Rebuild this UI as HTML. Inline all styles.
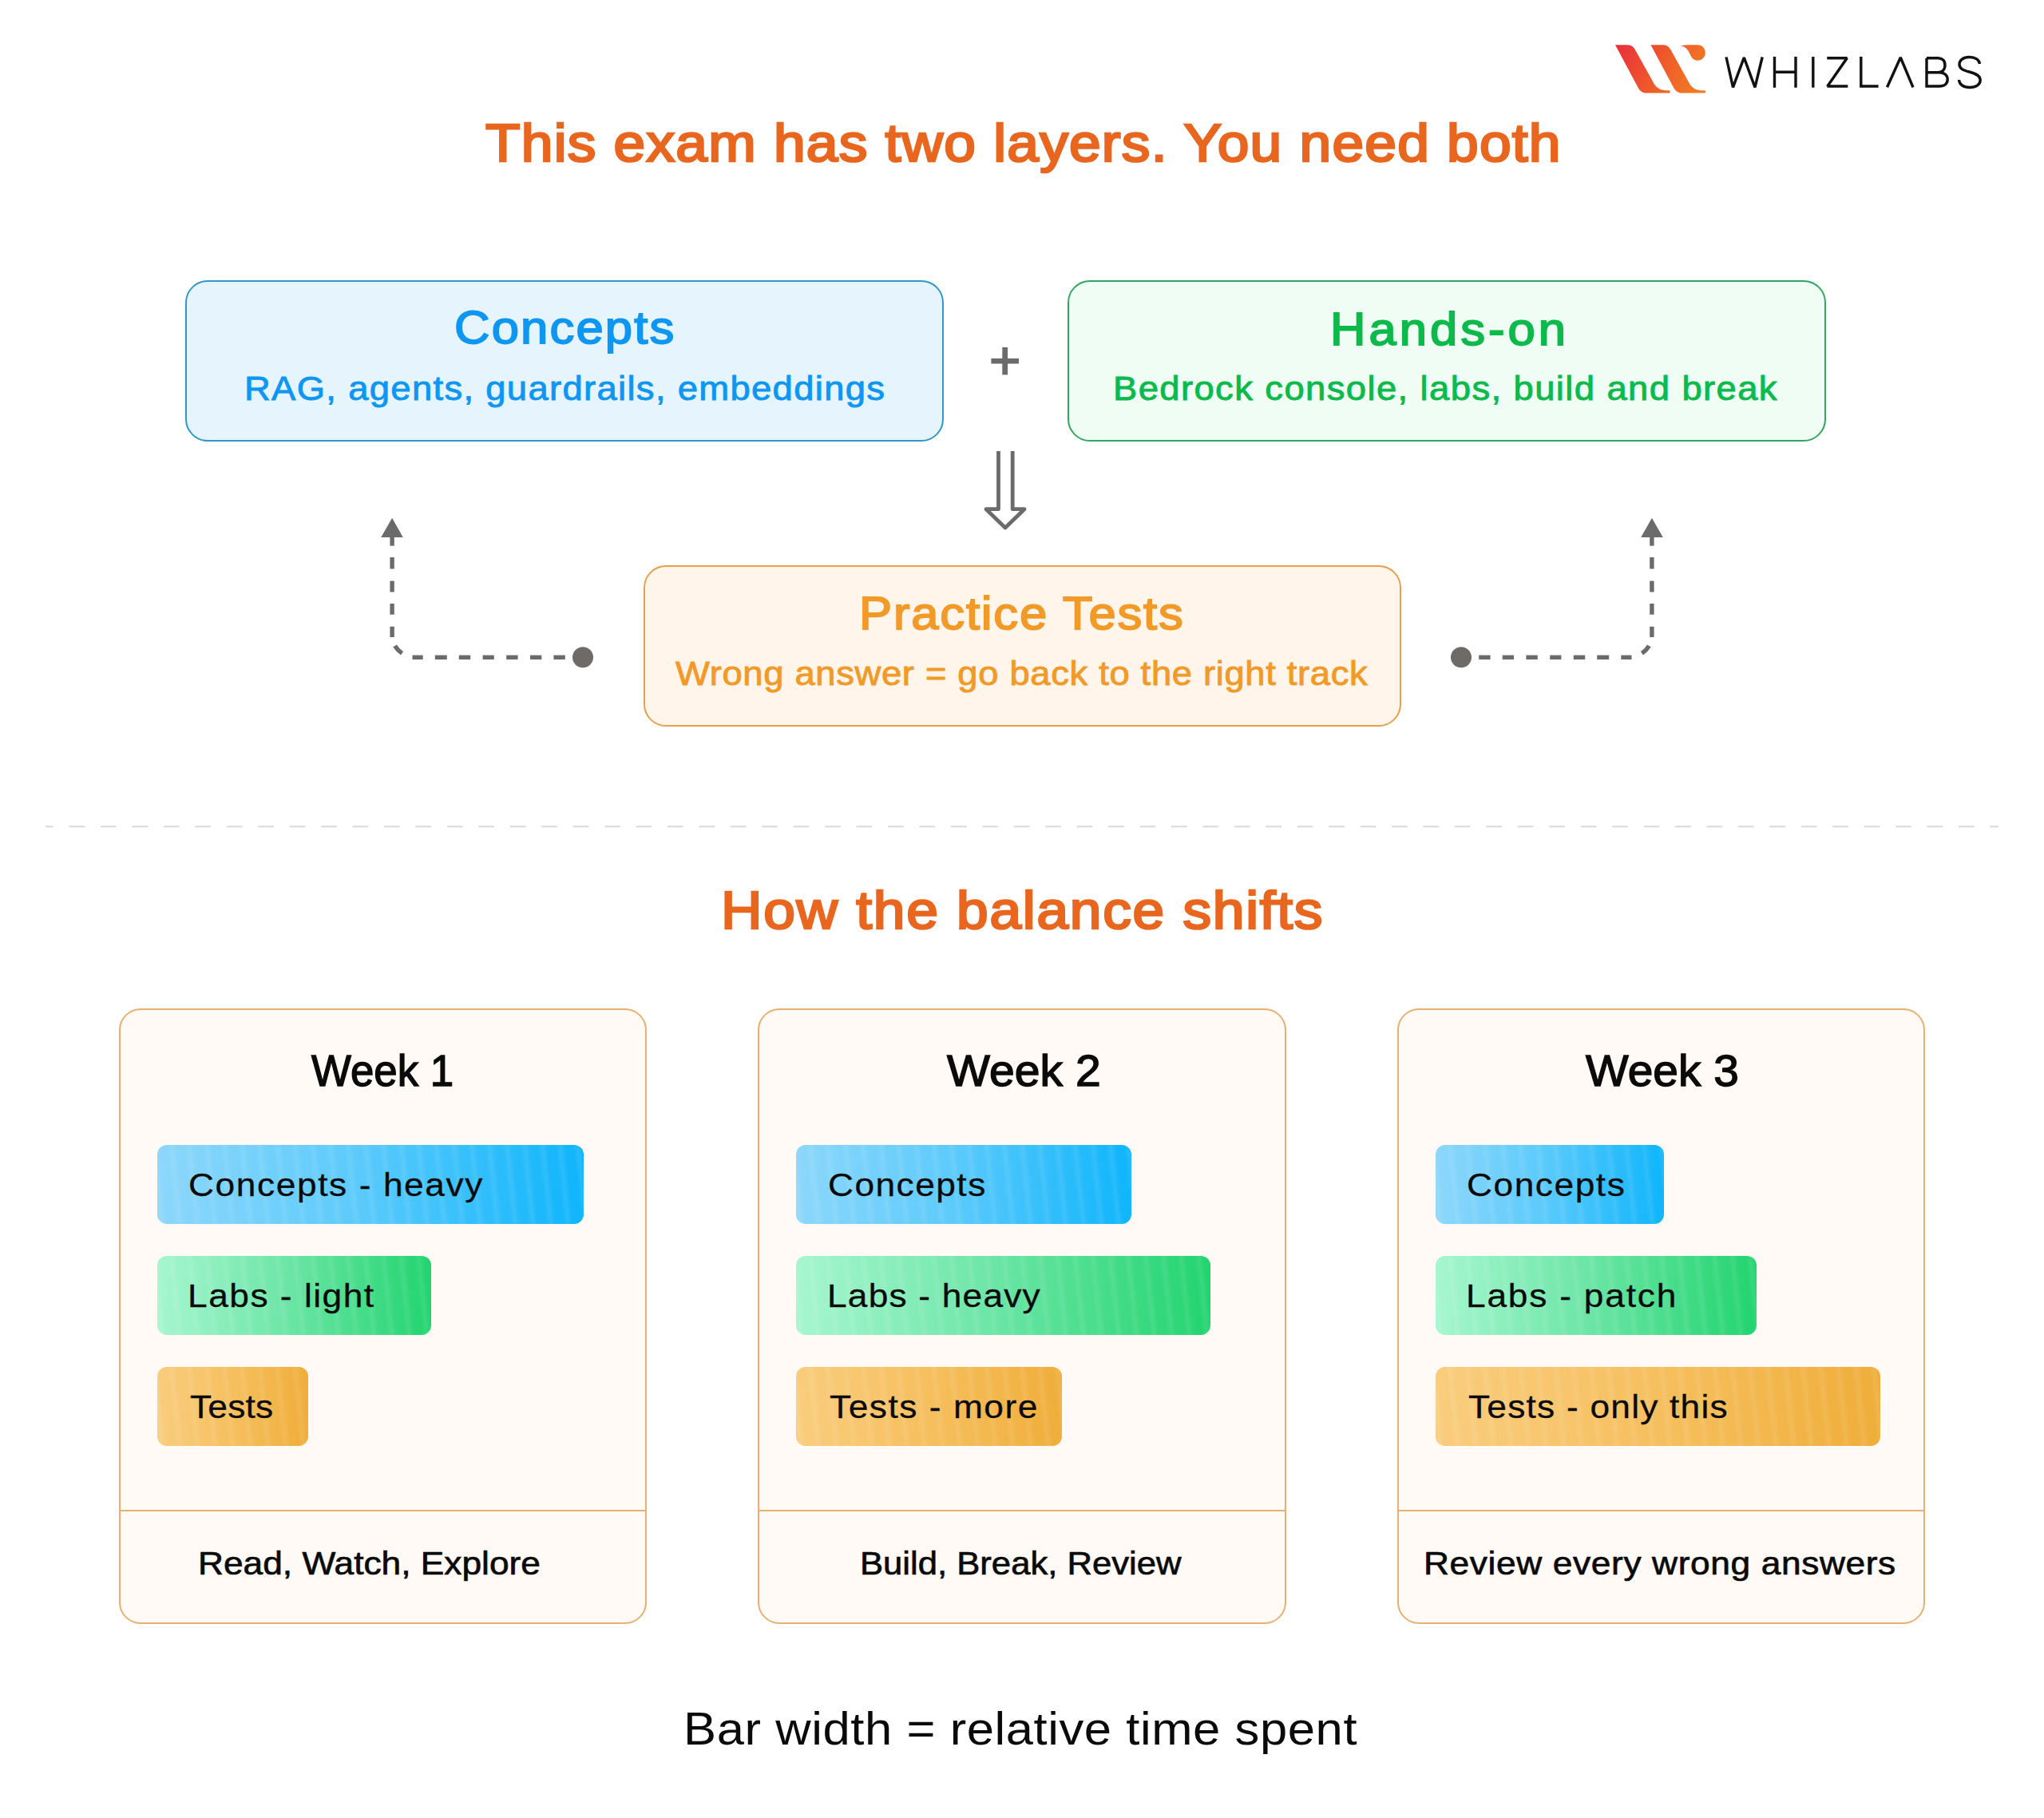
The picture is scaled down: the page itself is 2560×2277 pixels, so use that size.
<!DOCTYPE html>
<html><head><meta charset="utf-8"><title>Two layers</title>
<style>
html,body{margin:0;padding:0;background:#ffffff;}
body{width:2560px;height:2277px;position:relative;overflow:hidden;font-family:"Liberation Sans",sans-serif;}
.box{position:absolute;box-sizing:border-box;}
.bar{position:absolute;border-radius:12px;}
.t{position:absolute;white-space:nowrap;line-height:1;transform-origin:0 0;}
.ov{position:absolute;left:0;top:0;}
</style></head><body>
<div class="box" style="left:231.8px;top:351px;width:950.5px;height:202px;background:#e6f4fd;border:2px solid #3196cc;border-radius:28px;"></div>
<div class="box" style="left:1337px;top:351px;width:950px;height:202px;background:#effdf4;border:2px solid #2fa85e;border-radius:28px;"></div>
<div class="box" style="left:805.5px;top:708px;width:949px;height:202px;background:#fff5eb;border:2px solid #e6a04c;border-radius:28px;"></div>
<div class="box" style="left:148.5px;top:1263.2px;width:661.5px;height:770.4px;background:#fffaf5;border:2px solid #e8b070;border-radius:27px;"></div>
<div class="box" style="left:149.5px;top:1891px;width:659.5px;height:2px;background:#e8b070;"></div>
<div class="box" style="left:949.2px;top:1263.2px;width:661.5px;height:770.4px;background:#fffaf5;border:2px solid #e8b070;border-radius:27px;"></div>
<div class="box" style="left:950.2px;top:1891px;width:659.5px;height:2px;background:#e8b070;"></div>
<div class="box" style="left:1749.5px;top:1263.2px;width:661.5px;height:770.4px;background:#fffaf5;border:2px solid #e8b070;border-radius:27px;"></div>
<div class="box" style="left:1750.5px;top:1891px;width:659.5px;height:2px;background:#e8b070;"></div>
<div class="bar" style="left:196.5px;top:1434px;width:534px;height:99px;background:repeating-linear-gradient(84deg,rgba(255,255,255,0) 0px,rgba(255,255,255,0.09) 6px,rgba(255,255,255,0) 12px,rgba(255,255,255,0) 22px),linear-gradient(90deg,#8dd7fb 0%,#5ecbfb 45%,#0fb5fb 100%);"></div>
<div class="bar" style="left:196.5px;top:1573px;width:343.5px;height:99px;background:repeating-linear-gradient(84deg,rgba(255,255,255,0) 0px,rgba(255,255,255,0.09) 6px,rgba(255,255,255,0) 12px,rgba(255,255,255,0) 22px),linear-gradient(90deg,#a6f6d0 0%,#6fe6a8 45%,#22d46f 100%);"></div>
<div class="bar" style="left:196.5px;top:1712px;width:189.5px;height:99px;background:repeating-linear-gradient(84deg,rgba(255,255,255,0) 0px,rgba(255,255,255,0.09) 6px,rgba(255,255,255,0) 12px,rgba(255,255,255,0) 22px),linear-gradient(90deg,#f9cd7e 0%,#f6bf5e 50%,#efae3a 100%);"></div>
<div class="bar" style="left:997.2px;top:1434px;width:420px;height:99px;background:repeating-linear-gradient(84deg,rgba(255,255,255,0) 0px,rgba(255,255,255,0.09) 6px,rgba(255,255,255,0) 12px,rgba(255,255,255,0) 22px),linear-gradient(90deg,#8dd7fb 0%,#5ecbfb 45%,#0fb5fb 100%);"></div>
<div class="bar" style="left:997.2px;top:1573px;width:518.6px;height:99px;background:repeating-linear-gradient(84deg,rgba(255,255,255,0) 0px,rgba(255,255,255,0.09) 6px,rgba(255,255,255,0) 12px,rgba(255,255,255,0) 22px),linear-gradient(90deg,#a6f6d0 0%,#6fe6a8 45%,#22d46f 100%);"></div>
<div class="bar" style="left:997.2px;top:1712px;width:333px;height:99px;background:repeating-linear-gradient(84deg,rgba(255,255,255,0) 0px,rgba(255,255,255,0.09) 6px,rgba(255,255,255,0) 12px,rgba(255,255,255,0) 22px),linear-gradient(90deg,#f9cd7e 0%,#f6bf5e 50%,#efae3a 100%);"></div>
<div class="bar" style="left:1797.5px;top:1434px;width:286px;height:99px;background:repeating-linear-gradient(84deg,rgba(255,255,255,0) 0px,rgba(255,255,255,0.09) 6px,rgba(255,255,255,0) 12px,rgba(255,255,255,0) 22px),linear-gradient(90deg,#8dd7fb 0%,#5ecbfb 45%,#0fb5fb 100%);"></div>
<div class="bar" style="left:1797.5px;top:1573px;width:402px;height:99px;background:repeating-linear-gradient(84deg,rgba(255,255,255,0) 0px,rgba(255,255,255,0.09) 6px,rgba(255,255,255,0) 12px,rgba(255,255,255,0) 22px),linear-gradient(90deg,#a6f6d0 0%,#6fe6a8 45%,#22d46f 100%);"></div>
<div class="bar" style="left:1797.5px;top:1712px;width:557px;height:99px;background:repeating-linear-gradient(84deg,rgba(255,255,255,0) 0px,rgba(255,255,255,0.09) 6px,rgba(255,255,255,0) 12px,rgba(255,255,255,0) 22px),linear-gradient(90deg,#f9cd7e 0%,#f6bf5e 50%,#efae3a 100%);"></div>
<svg class="ov" width="2560" height="2277" viewBox="0 0 2560 2277">
<defs>
<linearGradient id="lg" x1="2022" y1="56" x2="2136" y2="116" gradientUnits="userSpaceOnUse">
<stop offset="0" stop-color="#e82e3c"/><stop offset="0.5" stop-color="#ef5a2a"/><stop offset="1" stop-color="#f28222"/>
</linearGradient>
</defs>
<g fill="url(#lg)">
<path d="M2023,56.3 L2038.5,56.3 C2043.5,56.3 2046.8,59.5 2048.6,63.6 L2069.5,101 C2072.5,107 2076,111.5 2082.5,112.8 C2085.5,113.4 2088.5,113.3 2090.3,113.3 C2092.3,113.4 2092.3,116.6 2090,116.6 L2062,116.6 C2057,116.6 2053.5,113.5 2051.5,109.5 Z"/>
<path d="M2067.5,56.3 L2083,56.3 C2088,56.3 2091.3,59.5 2093.1,63.6 L2114,101 C2117,107 2120.5,111.5 2127,112.8 C2130,113.4 2133,113.3 2134.8,113.3 C2136.8,113.4 2136.8,116.6 2134.5,116.6 L2106.5,116.6 C2101.5,116.6 2098,113.5 2096,109.5 Z"/>
<path d="M2105.5,57.3 C2109,56.6 2112,56.3 2116,56.3 L2126.5,56.3 C2131.5,56.3 2135.8,60.5 2135.8,66 C2135.8,71.5 2131.5,75.8 2126.2,75.8 C2122,75.8 2119.2,73.3 2117.4,69.5 C2115,64 2112,58.5 2105.5,57.3 Z"/>
</g>
<g fill="none" stroke="#111" stroke-width="3.4" stroke-linecap="butt" stroke-linejoin="miter" stroke-miterlimit="2">
<path d="M2162,71.5 L2170.5,109.3 L2184.3,72.2 L2198,109.3 L2207.2,71.5"/>
<path d="M2222.5,71.1 V109.7 M2249,71.1 V109.7 M2222.5,90.2 H2249"/>
<path d="M2270.8,71.1 V109.7"/>
<path d="M2288.3,72.8 H2313.3 L2288.8,108 H2314.3"/>
<path d="M2330.8,71.1 V108 H2352.6"/>
<path d="M2363.5,109.3 L2380.3,72 L2396,109.3"/>
<path d="M2413,72.8 V108 H2429 C2435.3,108 2439.2,104.5 2439.2,99.5 C2439.2,94.5 2435.3,90.8 2429,90.8 H2413 M2413,72.8 H2427 C2432.5,72.8 2436,76 2436,81.5 C2436,87 2432.5,90.8 2427,90.8"/>
<path d="M2479.5,80 C2479,75 2474,71.5 2466.5,71.5 C2459,71.5 2454,75.3 2454,80.5 C2454,86 2459,88 2466.5,90 C2474,92 2480.2,94.5 2480.2,100.5 C2480.2,106 2474.5,109.5 2467,109.5 C2459.5,109.5 2453.8,106 2453.5,100"/>
</g>
<g fill="#6b6b6b">
<rect x="1241.4" y="448.9" width="34.6" height="6.6"/>
<rect x="1255.3" y="435" width="6.8" height="34.4"/>
</g>
<path d="M1250.5,565 V637.7 H1235 L1259,661 L1283,637.7 H1268.2 V565" fill="none" stroke="#6b6b6b" stroke-width="4.8" stroke-linejoin="round"/>
<g stroke="#6b6b6b" stroke-width="5.4" fill="none">
<line x1="516.5" y1="823.3" x2="529.7" y2="823.3"/>
<line x1="544.8" y1="823.3" x2="559.8" y2="823.3"/>
<line x1="574.8" y1="823.3" x2="589.2" y2="823.3"/>
<line x1="604.6" y1="823.3" x2="618.8" y2="823.3"/>
<line x1="634.2" y1="823.3" x2="648.6" y2="823.3"/>
<line x1="664" y1="823.3" x2="678.3" y2="823.3"/>
<line x1="693.4" y1="823.3" x2="707.8" y2="823.3"/>
<line x1="491.1" y1="784.8" x2="491.1" y2="798"/>
<line x1="491.1" y1="756" x2="491.1" y2="769.7"/>
<line x1="491.1" y1="727.6" x2="491.1" y2="741.5"/>
<line x1="491.1" y1="698" x2="491.1" y2="712.5"/>
<line x1="491.1" y1="670" x2="491.1" y2="683.6"/>
<path d="M503.6,818.2 A28,28 0 0 1 494.6,808.8" fill="none"/>
<polygon points="491.1,648.8 477.2,672.9 504.8,672.9" fill="#6b6b6b" stroke="none"/>
<circle cx="730" cy="823.3" r="13" fill="#6e6a66" stroke="none"/>
<line x1="2043.5" y1="823.3" x2="2030.3" y2="823.3"/>
<line x1="2015.2" y1="823.3" x2="2000.2" y2="823.3"/>
<line x1="1985.2" y1="823.3" x2="1970.8" y2="823.3"/>
<line x1="1955.4" y1="823.3" x2="1941.2" y2="823.3"/>
<line x1="1925.8" y1="823.3" x2="1911.4" y2="823.3"/>
<line x1="1896" y1="823.3" x2="1881.7" y2="823.3"/>
<line x1="1866.6" y1="823.3" x2="1852.2" y2="823.3"/>
<line x1="2068.9" y1="784.8" x2="2068.9" y2="798"/>
<line x1="2068.9" y1="756" x2="2068.9" y2="769.7"/>
<line x1="2068.9" y1="727.6" x2="2068.9" y2="741.5"/>
<line x1="2068.9" y1="698" x2="2068.9" y2="712.5"/>
<line x1="2068.9" y1="670" x2="2068.9" y2="683.6"/>
<path d="M2056.4,818.2 A28,28 0 0 0 2065.4,808.8" fill="none"/>
<polygon points="2068.9,648.8 2082.8,672.9 2055.2,672.9" fill="#6b6b6b" stroke="none"/>
<circle cx="1830" cy="823.3" r="13" fill="#6e6a66" stroke="none"/>
</g>
<line x1="57" y1="1035.2" x2="2503" y2="1035.2" stroke="#d9d9d9" stroke-width="2" stroke-dasharray="19.72 19.72" stroke-dashoffset="9.86"/>
</svg>
<div class="t" style="left:607.8px;top:146.0px;font-size:66px;font-weight:normal;color:#e9661f;letter-spacing:1.14px;transform:scaleX(1.0800);-webkit-text-stroke:2.6px #e9661f;">This exam has two layers. You need both</div>
<div class="t" style="left:568.7px;top:382.3px;font-size:57px;font-weight:normal;color:#0d97f3;letter-spacing:2.01px;transform:scaleX(1.0800);-webkit-text-stroke:1.8px #0d97f3;">Concepts</div>
<div class="t" style="left:305.5px;top:466.0px;font-size:42px;font-weight:normal;color:#0d97f3;letter-spacing:1.24px;transform:scaleX(1.0800);-webkit-text-stroke:0.9px #0d97f3;">RAG, agents, guardrails, embeddings</div>
<div class="t" style="left:1665.6px;top:383.9px;font-size:57px;font-weight:normal;color:#0bba4a;letter-spacing:3.70px;transform:scaleX(1.0800);-webkit-text-stroke:1.8px #0bba4a;">Hands-on</div>
<div class="t" style="left:1393.9px;top:466.4px;font-size:42px;font-weight:normal;color:#0bba4a;letter-spacing:1.31px;transform:scaleX(1.0800);-webkit-text-stroke:0.9px #0bba4a;">Bedrock console, labs, build and break</div>
<div class="t" style="left:1076.0px;top:739.9px;font-size:57px;font-weight:normal;color:#f29a28;letter-spacing:1.69px;transform:scaleX(1.0800);-webkit-text-stroke:1.8px #f29a28;">Practice Tests</div>
<div class="t" style="left:845.7px;top:823.3px;font-size:42px;font-weight:normal;color:#f29a28;letter-spacing:0.62px;transform:scaleX(1.0800);-webkit-text-stroke:0.9px #f29a28;">Wrong answer = go back to the right track</div>
<div class="t" style="left:902.5px;top:1107.3px;font-size:66px;font-weight:normal;color:#e9661f;letter-spacing:1.60px;transform:scaleX(1.0800);-webkit-text-stroke:2.6px #e9661f;">How the balance shifts</div>
<div class="t" style="left:389.5px;top:1314.3px;font-size:55px;font-weight:normal;color:#0a0a0a;letter-spacing:0.00px;transform:scaleX(0.9608);-webkit-text-stroke:1.4px #0a0a0a;">Week 1</div>
<div class="t" style="left:1185.7px;top:1314.3px;font-size:55px;font-weight:normal;color:#0a0a0a;letter-spacing:-0.00px;transform:scaleX(1.0395);-webkit-text-stroke:1.4px #0a0a0a;">Week 2</div>
<div class="t" style="left:1985.7px;top:1314.3px;font-size:55px;font-weight:normal;color:#0a0a0a;letter-spacing:0.00px;transform:scaleX(1.0339);-webkit-text-stroke:1.4px #0a0a0a;">Week 3</div>
<div class="t" style="left:236.0px;top:1463.5px;font-size:41px;font-weight:normal;color:#0a0a0a;letter-spacing:1.47px;transform:scaleX(1.0800);-webkit-text-stroke:0.3px #0a0a0a;">Concepts - heavy</div>
<div class="t" style="left:234.9px;top:1602.5px;font-size:41px;font-weight:normal;color:#0a0a0a;letter-spacing:1.39px;transform:scaleX(1.0800);-webkit-text-stroke:0.3px #0a0a0a;">Labs - light</div>
<div class="t" style="left:238.2px;top:1741.5px;font-size:41px;font-weight:normal;color:#0a0a0a;letter-spacing:0.21px;transform:scaleX(1.0800);-webkit-text-stroke:0.3px #0a0a0a;">Tests</div>
<div class="t" style="left:1036.7px;top:1463.5px;font-size:41px;font-weight:normal;color:#0a0a0a;letter-spacing:1.35px;transform:scaleX(1.0800);-webkit-text-stroke:0.3px #0a0a0a;">Concepts</div>
<div class="t" style="left:1035.6px;top:1602.5px;font-size:41px;font-weight:normal;color:#0a0a0a;letter-spacing:1.11px;transform:scaleX(1.0800);-webkit-text-stroke:0.3px #0a0a0a;">Labs - heavy</div>
<div class="t" style="left:1038.9px;top:1741.5px;font-size:41px;font-weight:normal;color:#0a0a0a;letter-spacing:1.41px;transform:scaleX(1.0800);-webkit-text-stroke:0.3px #0a0a0a;">Tests - more</div>
<div class="t" style="left:1837.0px;top:1463.5px;font-size:41px;font-weight:normal;color:#0a0a0a;letter-spacing:1.42px;transform:scaleX(1.0800);-webkit-text-stroke:0.3px #0a0a0a;">Concepts</div>
<div class="t" style="left:1835.9px;top:1602.5px;font-size:41px;font-weight:normal;color:#0a0a0a;letter-spacing:1.65px;transform:scaleX(1.0800);-webkit-text-stroke:0.3px #0a0a0a;">Labs - patch</div>
<div class="t" style="left:1839.2px;top:1741.5px;font-size:41px;font-weight:normal;color:#0a0a0a;letter-spacing:1.13px;transform:scaleX(1.0800);-webkit-text-stroke:0.3px #0a0a0a;">Tests - only this</div>
<div class="t" style="left:247.9px;top:1938.4px;font-size:41px;font-weight:normal;color:#0a0a0a;letter-spacing:0.00px;transform:scaleX(1.0796);-webkit-text-stroke:0.7px #0a0a0a;">Read, Watch, Explore</div>
<div class="t" style="left:1076.8px;top:1938.4px;font-size:41px;font-weight:normal;color:#0a0a0a;letter-spacing:0.00px;transform:scaleX(1.0640);-webkit-text-stroke:0.7px #0a0a0a;">Build, Break, Review</div>
<div class="t" style="left:1783.4px;top:1938.4px;font-size:41px;font-weight:normal;color:#0a0a0a;letter-spacing:0.57px;transform:scaleX(1.0800);-webkit-text-stroke:0.7px #0a0a0a;">Review every wrong answers</div>
<div class="t" style="left:856.2px;top:2137.2px;font-size:57px;font-weight:normal;color:#0a0a0a;letter-spacing:0.53px;transform:scaleX(1.0800);">Bar width = relative time spent</div>
</body></html>
